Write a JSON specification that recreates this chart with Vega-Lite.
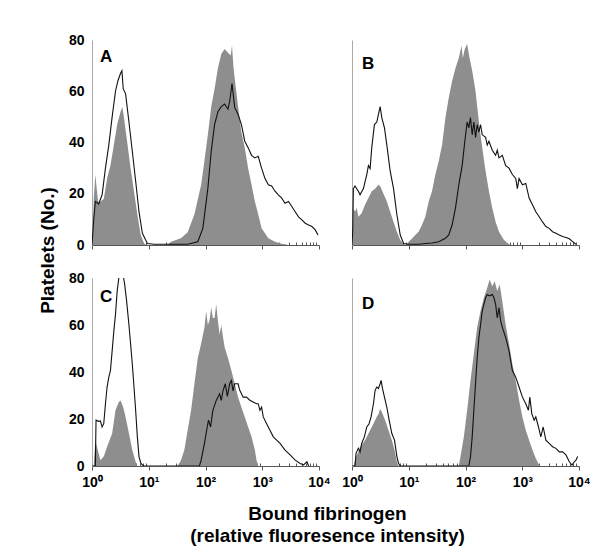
{
  "$schema": "https://vega.github.io/schema/vega-lite/v6.json",
  "background": "white",
  "padding": {"left": 38, "top": 33, "right": 5, "bottom": 5},
  "bounds": "flush",
  "columns": 2,
  "spacing": {"row": 33, "column": 33},
  "config": {
    "font": "Liberation Sans",
    "view": {"stroke": null},
    "axis": {"grid": false, "labelFont": "Liberation Sans", "labelFontWeight": "bold", "labelFontSize": 14, "labelColor": "#000", "titleFont": "Liberation Sans", "titleFontWeight": "bold", "titleFontSize": 19, "titleColor": "#000"},
    "title": {"font": "Liberation Sans", "fontWeight": "bold", "fontSize": 17, "color": "#000", "anchor": "start", "frame": "group", "baseline": "top"}
  },
  "datasets": {
    "Ag": [{"logI":0,"count":0},{"logI":0.012,"count":0},{"logI":0.03,"count":18},{"logI":0.059,"count":27.5},{"logI":0.083,"count":22},{"logI":0.107,"count":17},{"logI":0.148,"count":17},{"logI":0.207,"count":18},{"logI":0.266,"count":26},{"logI":0.325,"count":31},{"logI":0.385,"count":39},{"logI":0.444,"count":47},{"logI":0.503,"count":52},{"logI":0.533,"count":54},{"logI":0.562,"count":50},{"logI":0.621,"count":40},{"logI":0.68,"count":30},{"logI":0.74,"count":21},{"logI":0.799,"count":12},{"logI":0.858,"count":4},{"logI":0.917,"count":0.6},{"logI":0.976,"count":0},{"logI":1.331,"count":0},{"logI":1.391,"count":1.3},{"logI":1.568,"count":2.6},{"logI":1.686,"count":5},{"logI":1.805,"count":12},{"logI":1.923,"count":23.5},{"logI":1.982,"count":33},{"logI":2.041,"count":43},{"logI":2.101,"count":54},{"logI":2.16,"count":61},{"logI":2.219,"count":69},{"logI":2.278,"count":74.5},{"logI":2.337,"count":76.5},{"logI":2.396,"count":75},{"logI":2.444,"count":74},{"logI":2.467,"count":78},{"logI":2.491,"count":70},{"logI":2.515,"count":65},{"logI":2.574,"count":54},{"logI":2.633,"count":44},{"logI":2.692,"count":38},{"logI":2.751,"count":30},{"logI":2.811,"count":23.5},{"logI":2.87,"count":17},{"logI":2.929,"count":12},{"logI":2.988,"count":6.5},{"logI":3.107,"count":2.6},{"logI":3.225,"count":1.3},{"logI":3.343,"count":0.5},{"logI":3.462,"count":0},{"logI":4,"count":0}],
    "Ab": [{"logI":0,"count":0},{"logI":0.03,"count":10},{"logI":0.059,"count":17},{"logI":0.118,"count":16},{"logI":0.178,"count":19.6},{"logI":0.237,"count":30},{"logI":0.296,"count":39},{"logI":0.355,"count":50},{"logI":0.414,"count":60},{"logI":0.456,"count":64},{"logI":0.503,"count":67},{"logI":0.527,"count":68},{"logI":0.55,"count":61},{"logI":0.592,"count":59},{"logI":0.651,"count":48},{"logI":0.71,"count":36.6},{"logI":0.769,"count":25},{"logI":0.828,"count":13},{"logI":0.888,"count":4.6},{"logI":0.976,"count":0.6},{"logI":1.095,"count":0.3},{"logI":1.686,"count":0.3},{"logI":1.864,"count":1.3},{"logI":1.953,"count":6.5},{"logI":2.041,"count":22},{"logI":2.101,"count":36.6},{"logI":2.16,"count":47},{"logI":2.219,"count":52},{"logI":2.278,"count":54},{"logI":2.337,"count":55},{"logI":2.396,"count":53},{"logI":2.426,"count":56},{"logI":2.467,"count":63},{"logI":2.515,"count":53.6},{"logI":2.574,"count":51},{"logI":2.633,"count":47},{"logI":2.692,"count":40.5},{"logI":2.751,"count":38},{"logI":2.811,"count":35},{"logI":2.87,"count":34},{"logI":2.929,"count":34.6},{"logI":2.988,"count":30},{"logI":3.047,"count":26},{"logI":3.107,"count":23.5},{"logI":3.166,"count":23},{"logI":3.225,"count":21},{"logI":3.284,"count":19.6},{"logI":3.343,"count":18.3},{"logI":3.402,"count":16.3},{"logI":3.462,"count":17},{"logI":3.521,"count":15},{"logI":3.58,"count":13},{"logI":3.639,"count":11},{"logI":3.698,"count":9.8},{"logI":3.757,"count":8.5},{"logI":3.817,"count":7.8},{"logI":3.876,"count":7.2},{"logI":3.935,"count":5.9},{"logI":3.982,"count":3.9}],
    "Bg": [{"logI":0,"count":0},{"logI":0.012,"count":0},{"logI":0.024,"count":14.4},{"logI":0.053,"count":13},{"logI":0.083,"count":14.4},{"logI":0.112,"count":11},{"logI":0.171,"count":12.4},{"logI":0.23,"count":15.7},{"logI":0.289,"count":18.3},{"logI":0.348,"count":21},{"logI":0.407,"count":22},{"logI":0.466,"count":23.5},{"logI":0.496,"count":23},{"logI":0.555,"count":20},{"logI":0.614,"count":17},{"logI":0.673,"count":13},{"logI":0.732,"count":9},{"logI":0.791,"count":5.2},{"logI":0.85,"count":2},{"logI":0.909,"count":0.3},{"logI":0.968,"count":0},{"logI":0.997,"count":1.3},{"logI":1.056,"count":2.4},{"logI":1.115,"count":3.9},{"logI":1.174,"count":5.2},{"logI":1.233,"count":7.8},{"logI":1.292,"count":11},{"logI":1.351,"count":17},{"logI":1.41,"count":21},{"logI":1.469,"count":27.5},{"logI":1.528,"count":32.7},{"logI":1.587,"count":39},{"logI":1.646,"count":49.7},{"logI":1.705,"count":57.5},{"logI":1.764,"count":64},{"logI":1.823,"count":69},{"logI":1.882,"count":73},{"logI":1.929,"count":77.8},{"logI":1.953,"count":73},{"logI":1.988,"count":76.5},{"logI":2.029,"count":78.4},{"logI":2.071,"count":73},{"logI":2.118,"count":68},{"logI":2.177,"count":60},{"logI":2.236,"count":48},{"logI":2.295,"count":38},{"logI":2.354,"count":28.8},{"logI":2.413,"count":21},{"logI":2.472,"count":14.4},{"logI":2.531,"count":9},{"logI":2.59,"count":5.2},{"logI":2.678,"count":2},{"logI":2.767,"count":0.3},{"logI":2.826,"count":0},{"logI":4,"count":0}],
    "Bb": [{"logI":0,"count":0},{"logI":0.012,"count":5},{"logI":0.024,"count":22},{"logI":0.053,"count":23},{"logI":0.112,"count":21},{"logI":0.142,"count":19.6},{"logI":0.201,"count":22},{"logI":0.26,"count":27.5},{"logI":0.289,"count":31},{"logI":0.319,"count":29.8},{"logI":0.348,"count":38},{"logI":0.395,"count":47},{"logI":0.437,"count":48},{"logI":0.466,"count":51},{"logI":0.496,"count":54},{"logI":0.525,"count":49.7},{"logI":0.572,"count":45.7},{"logI":0.614,"count":39},{"logI":0.673,"count":28.8},{"logI":0.732,"count":22},{"logI":0.791,"count":11.8},{"logI":0.85,"count":3.9},{"logI":0.909,"count":0.6},{"logI":0.997,"count":0.3},{"logI":1.174,"count":0.3},{"logI":1.292,"count":0.6},{"logI":1.41,"count":0.8},{"logI":1.528,"count":1.3},{"logI":1.646,"count":2.6},{"logI":1.705,"count":3.9},{"logI":1.764,"count":7.8},{"logI":1.823,"count":14.4},{"logI":1.882,"count":23.5},{"logI":1.941,"count":31},{"logI":1.988,"count":40.5},{"logI":2.029,"count":48},{"logI":2.059,"count":45.7},{"logI":2.088,"count":49.7},{"logI":2.118,"count":43},{"logI":2.147,"count":48},{"logI":2.177,"count":42},{"logI":2.206,"count":47},{"logI":2.236,"count":44},{"logI":2.265,"count":47},{"logI":2.295,"count":43},{"logI":2.354,"count":42},{"logI":2.383,"count":39},{"logI":2.413,"count":40.5},{"logI":2.472,"count":37},{"logI":2.531,"count":35},{"logI":2.56,"count":37},{"logI":2.59,"count":34},{"logI":2.649,"count":35},{"logI":2.708,"count":31},{"logI":2.767,"count":30},{"logI":2.826,"count":27.5},{"logI":2.885,"count":26},{"logI":2.914,"count":22},{"logI":2.944,"count":26},{"logI":3.003,"count":23.5},{"logI":3.062,"count":24},{"logI":3.121,"count":18.3},{"logI":3.18,"count":15.7},{"logI":3.239,"count":13},{"logI":3.298,"count":11},{"logI":3.357,"count":9},{"logI":3.416,"count":7.2},{"logI":3.475,"count":6.5},{"logI":3.534,"count":5.2},{"logI":3.593,"count":4.6},{"logI":3.652,"count":3.9},{"logI":3.711,"count":3.3},{"logI":3.77,"count":2.9},{"logI":3.829,"count":2.4},{"logI":3.888,"count":1.3},{"logI":3.947,"count":0.3}],
    "Cg": [{"logI":0,"count":0},{"logI":0.03,"count":0},{"logI":0.059,"count":11},{"logI":0.089,"count":8},{"logI":0.148,"count":2.5},{"logI":0.207,"count":4},{"logI":0.266,"count":8.2},{"logI":0.355,"count":13.8},{"logI":0.414,"count":23.7},{"logI":0.473,"count":27.2},{"logI":0.503,"count":27.9},{"logI":0.55,"count":25},{"logI":0.592,"count":20.9},{"logI":0.651,"count":13.8},{"logI":0.71,"count":6.8},{"logI":0.769,"count":1.8},{"logI":0.799,"count":0},{"logI":1.509,"count":0},{"logI":1.568,"count":2.5},{"logI":1.627,"count":6.8},{"logI":1.686,"count":15.2},{"logI":1.746,"count":23.7},{"logI":1.805,"count":35},{"logI":1.864,"count":46},{"logI":1.923,"count":52},{"logI":1.982,"count":59},{"logI":2.012,"count":66},{"logI":2.041,"count":60},{"logI":2.071,"count":62},{"logI":2.101,"count":67.4},{"logI":2.13,"count":63},{"logI":2.16,"count":63},{"logI":2.189,"count":68.8},{"logI":2.219,"count":61.8},{"logI":2.249,"count":56},{"logI":2.278,"count":60},{"logI":2.308,"count":55},{"logI":2.337,"count":50.5},{"logI":2.396,"count":46},{"logI":2.456,"count":40.6},{"logI":2.515,"count":35},{"logI":2.574,"count":29.3},{"logI":2.633,"count":25},{"logI":2.692,"count":20.9},{"logI":2.751,"count":16.6},{"logI":2.811,"count":12.4},{"logI":2.87,"count":6.8},{"logI":2.899,"count":2.5},{"logI":2.929,"count":0},{"logI":4,"count":0}],
    "Cb": [{"logI":0,"count":0},{"logI":0.059,"count":0},{"logI":0.071,"count":19.5},{"logI":0.118,"count":19},{"logI":0.148,"count":19.2},{"logI":0.178,"count":16.6},{"logI":0.207,"count":18},{"logI":0.237,"count":26.5},{"logI":0.266,"count":33.6},{"logI":0.296,"count":37.8},{"logI":0.325,"count":40.6},{"logI":0.355,"count":49},{"logI":0.385,"count":57.5},{"logI":0.414,"count":64.6},{"logI":0.444,"count":74.5},{"logI":0.473,"count":80},{"logI":0.503,"count":81.5},{"logI":0.55,"count":81},{"logI":0.574,"count":77.6},{"logI":0.609,"count":70.5},{"logI":0.651,"count":60},{"logI":0.68,"count":52},{"logI":0.71,"count":43.4},{"logI":0.74,"count":33.6},{"logI":0.769,"count":23.7},{"logI":0.799,"count":12.4},{"logI":0.828,"count":4},{"logI":0.858,"count":1.4},{"logI":0.888,"count":0.4},{"logI":0.917,"count":0},{"logI":1.893,"count":0},{"logI":1.923,"count":2.5},{"logI":1.982,"count":9.6},{"logI":2.03,"count":16.6},{"logI":2.053,"count":19.5},{"logI":2.089,"count":16.6},{"logI":2.13,"count":23.7},{"logI":2.189,"count":27.9},{"logI":2.249,"count":30.7},{"logI":2.278,"count":27.9},{"logI":2.308,"count":32},{"logI":2.349,"count":35},{"logI":2.385,"count":29.6},{"logI":2.426,"count":35},{"logI":2.456,"count":36.4},{"logI":2.485,"count":32},{"logI":2.515,"count":35},{"logI":2.574,"count":35},{"logI":2.604,"count":32.2},{"logI":2.663,"count":29.3},{"logI":2.722,"count":29.3},{"logI":2.781,"count":28},{"logI":2.84,"count":27.2},{"logI":2.899,"count":26.5},{"logI":2.929,"count":26.5},{"logI":2.959,"count":23.7},{"logI":2.988,"count":25},{"logI":3.018,"count":20.9},{"logI":3.077,"count":18},{"logI":3.136,"count":15.2},{"logI":3.195,"count":12.4},{"logI":3.254,"count":11},{"logI":3.314,"count":9.6},{"logI":3.402,"count":6.8},{"logI":3.491,"count":4.7},{"logI":3.58,"count":2.5},{"logI":3.669,"count":1.1},{"logI":3.728,"count":0.5},{"logI":3.787,"count":1.8},{"logI":3.817,"count":0}],
    "Dg": [{"logI":0,"count":0},{"logI":0.03,"count":0},{"logI":0.071,"count":4},{"logI":0.112,"count":6},{"logI":0.142,"count":8},{"logI":0.23,"count":11},{"logI":0.319,"count":15.2},{"logI":0.378,"count":18},{"logI":0.437,"count":21},{"logI":0.466,"count":22},{"logI":0.496,"count":24.4},{"logI":0.525,"count":23},{"logI":0.584,"count":19.5},{"logI":0.643,"count":15.2},{"logI":0.702,"count":11},{"logI":0.749,"count":6.8},{"logI":0.791,"count":1.8},{"logI":0.82,"count":0},{"logI":1.882,"count":0},{"logI":1.912,"count":4},{"logI":1.971,"count":12.4},{"logI":2.029,"count":23.7},{"logI":2.088,"count":36.4},{"logI":2.147,"count":47.7},{"logI":2.206,"count":59},{"logI":2.265,"count":66},{"logI":2.324,"count":71.6},{"logI":2.383,"count":75.9},{"logI":2.425,"count":79.4},{"logI":2.472,"count":76.5},{"logI":2.513,"count":78.6},{"logI":2.56,"count":74.5},{"logI":2.602,"count":77.3},{"logI":2.649,"count":70},{"logI":2.708,"count":60},{"logI":2.767,"count":52},{"logI":2.826,"count":43.4},{"logI":2.885,"count":36.4},{"logI":2.944,"count":28},{"logI":3.003,"count":20.9},{"logI":3.062,"count":15.2},{"logI":3.121,"count":11},{"logI":3.18,"count":6.8},{"logI":3.239,"count":3.2},{"logI":3.298,"count":0.4},{"logI":3.327,"count":0},{"logI":4,"count":0}],
    "Db": [{"logI":0,"count":0},{"logI":0.053,"count":0},{"logI":0.071,"count":5.4},{"logI":0.112,"count":7.5},{"logI":0.142,"count":6},{"logI":0.171,"count":9.6},{"logI":0.218,"count":12.4},{"logI":0.26,"count":16.6},{"logI":0.301,"count":18},{"logI":0.336,"count":20.9},{"logI":0.378,"count":26.5},{"logI":0.407,"count":32.2},{"logI":0.437,"count":33.6},{"logI":0.466,"count":33},{"logI":0.496,"count":35},{"logI":0.513,"count":36.4},{"logI":0.537,"count":33},{"logI":0.572,"count":29.3},{"logI":0.614,"count":25},{"logI":0.655,"count":19.5},{"logI":0.702,"count":13.8},{"logI":0.749,"count":11},{"logI":0.791,"count":4},{"logI":0.82,"count":1.2},{"logI":0.85,"count":0},{"logI":2.059,"count":0},{"logI":2.088,"count":4},{"logI":2.118,"count":12.4},{"logI":2.147,"count":23.7},{"logI":2.177,"count":35},{"logI":2.206,"count":46},{"logI":2.236,"count":54.7},{"logI":2.265,"count":60},{"logI":2.295,"count":66},{"logI":2.324,"count":68.8},{"logI":2.354,"count":71.6},{"logI":2.383,"count":73},{"logI":2.425,"count":72.4},{"logI":2.472,"count":73},{"logI":2.501,"count":71.6},{"logI":2.531,"count":68.8},{"logI":2.56,"count":63},{"logI":2.59,"count":67.4},{"logI":2.619,"count":61.8},{"logI":2.649,"count":59},{"logI":2.708,"count":54.7},{"logI":2.767,"count":49},{"logI":2.796,"count":44.8},{"logI":2.826,"count":40.6},{"logI":2.885,"count":37.8},{"logI":2.944,"count":33.6},{"logI":3.003,"count":29.3},{"logI":3.062,"count":26.5},{"logI":3.109,"count":23.7},{"logI":3.133,"count":29.3},{"logI":3.168,"count":22.3},{"logI":3.209,"count":19.5},{"logI":3.239,"count":20.9},{"logI":3.286,"count":16.6},{"logI":3.327,"count":12.4},{"logI":3.369,"count":16.6},{"logI":3.416,"count":11},{"logI":3.475,"count":9.6},{"logI":3.534,"count":8.2},{"logI":3.593,"count":7.5},{"logI":3.652,"count":6},{"logI":3.711,"count":6},{"logI":3.77,"count":4.7},{"logI":3.829,"count":1.8},{"logI":3.876,"count":0.4},{"logI":3.917,"count":1.8},{"logI":3.947,"count":2.5},{"logI":3.976,"count":4}]
  },
  "concat": [
    {
      "width": 227, "height": 205,
      "title": {"text": "A", "offset": -32.5, "dx": 8},
      "encoding": {
        "x": {"field": "logI", "type": "quantitative", "scale": {"domain": [0, 4], "nice": false, "zero": false},
              "axis": {"title": null, "values": [0,0.301,0.477,0.602,0.699,0.778,0.845,0.903,0.954,1,1.301,1.477,1.602,1.699,1.778,1.845,1.903,1.954,2,2.301,2.477,2.602,2.699,2.778,2.845,2.903,2.954,3,3.301,3.477,3.602,3.699,3.778,3.845,3.903,3.954,4], "labels": false, "domainColor": "#555", "tickColor": "#555", "tickSize": {"condition": {"test": "datum.value % 1 === 0", "value": 4}, "value": -3}}},
        "y": {"field": "count", "type": "quantitative", "scale": {"domain": [0, 80], "nice": false},
              "axis": {"title": "Platelets (No.)", "titleAngle": 270, "titleX": -39, "titleY": 210, "titleBaseline": "alphabetic", "titleAlign": "center", "values": [0,20,40,60,80], "ticks": false, "labelPadding": 8, "domainColor": "#aaa"}}
      },
      "layer": [
        {"data": {"name": "Ag"}, "mark": {"type": "area", "color": "#8e8e8e", "clip": true}},
        {"data": {"name": "Ab"}, "mark": {"type": "line", "color": "#111", "strokeWidth": 1.1, "clip": true}}
      ]
    },
    {
      "width": 227, "height": 205,
      "title": {"text": "B", "offset": -32.5, "dx": 10},
      "encoding": {
        "x": {"field": "logI", "type": "quantitative", "scale": {"domain": [0, 4], "nice": false, "zero": false},
              "axis": {"title": null, "values": [0,0.301,0.477,0.602,0.699,0.778,0.845,0.903,0.954,1,1.301,1.477,1.602,1.699,1.778,1.845,1.903,1.954,2,2.301,2.477,2.602,2.699,2.778,2.845,2.903,2.954,3,3.301,3.477,3.602,3.699,3.778,3.845,3.903,3.954,4], "labels": false, "domainColor": "#555", "tickColor": "#555", "tickSize": {"condition": {"test": "datum.value % 1 === 0", "value": 4}, "value": -3}}},
        "y": {"field": "count", "type": "quantitative", "scale": {"domain": [0, 80], "nice": false},
              "axis": {"title": null, "labels": false, "ticks": false, "domainColor": "#aaa"}}
      },
      "layer": [
        {"data": {"name": "Bg"}, "mark": {"type": "area", "color": "#8e8e8e", "clip": true}},
        {"data": {"name": "Bb"}, "mark": {"type": "line", "color": "#111", "strokeWidth": 1.1, "clip": true}}
      ]
    },
    {
      "width": 227, "height": 188,
      "title": {"text": "C", "offset": -35, "dx": 8},
      "encoding": {
        "x": {"field": "logI", "type": "quantitative", "scale": {"domain": [0, 4], "nice": false, "zero": false},
              "axis": {"title": ["Bound fibrinogen", "(relative fluoresence intensity)"], "titleX": 235, "titleY": 53, "titleBaseline": "alphabetic", "titleAlign": "center", "titleLineHeight": 22, "values": [0,0.301,0.477,0.602,0.699,0.778,0.845,0.903,0.954,1,1.301,1.477,1.602,1.699,1.778,1.845,1.903,1.954,2,2.301,2.477,2.602,2.699,2.778,2.845,2.903,2.954,3,3.301,3.477,3.602,3.699,3.778,3.845,3.903,3.954,4], "labelExpr": "datum.value % 1 === 0 ? '10' + ['⁰','¹','²','³','⁴'][datum.value] : ''", "labelOverlap": false, "labelFlush": false, "labelBound": false, "labelPadding": 5, "domainColor": "#555", "tickColor": "#555", "tickSize": {"condition": {"test": "datum.value % 1 === 0", "value": 4}, "value": -3}}},
        "y": {"field": "count", "type": "quantitative", "scale": {"domain": [0, 80], "nice": false},
              "axis": {"title": null, "values": [0,20,40,60,80], "ticks": false, "labelPadding": 8, "domainColor": "#aaa"}}
      },
      "layer": [
        {"data": {"name": "Cg"}, "mark": {"type": "area", "color": "#8e8e8e", "clip": true}},
        {"data": {"name": "Cb"}, "mark": {"type": "line", "color": "#111", "strokeWidth": 1.1, "clip": true}}
      ]
    },
    {
      "width": 227, "height": 188,
      "title": {"text": "D", "offset": -35, "dx": 10},
      "encoding": {
        "x": {"field": "logI", "type": "quantitative", "scale": {"domain": [0, 4], "nice": false, "zero": false},
              "axis": {"title": null, "values": [0,0.301,0.477,0.602,0.699,0.778,0.845,0.903,0.954,1,1.301,1.477,1.602,1.699,1.778,1.845,1.903,1.954,2,2.301,2.477,2.602,2.699,2.778,2.845,2.903,2.954,3,3.301,3.477,3.602,3.699,3.778,3.845,3.903,3.954,4], "labelExpr": "datum.value % 1 === 0 ? '10' + ['⁰','¹','²','³','⁴'][datum.value] : ''", "labelOverlap": false, "labelFlush": false, "labelBound": false, "labelPadding": 5, "domainColor": "#555", "tickColor": "#555", "tickSize": {"condition": {"test": "datum.value % 1 === 0", "value": 4}, "value": -3}}},
        "y": {"field": "count", "type": "quantitative", "scale": {"domain": [0, 80], "nice": false},
              "axis": {"title": null, "labels": false, "ticks": false, "domainColor": "#aaa"}}
      },
      "layer": [
        {"data": {"name": "Dg"}, "mark": {"type": "area", "color": "#8e8e8e", "clip": true}},
        {"data": {"name": "Db"}, "mark": {"type": "line", "color": "#111", "strokeWidth": 1.1, "clip": true}}
      ]
    }
  ]
}
